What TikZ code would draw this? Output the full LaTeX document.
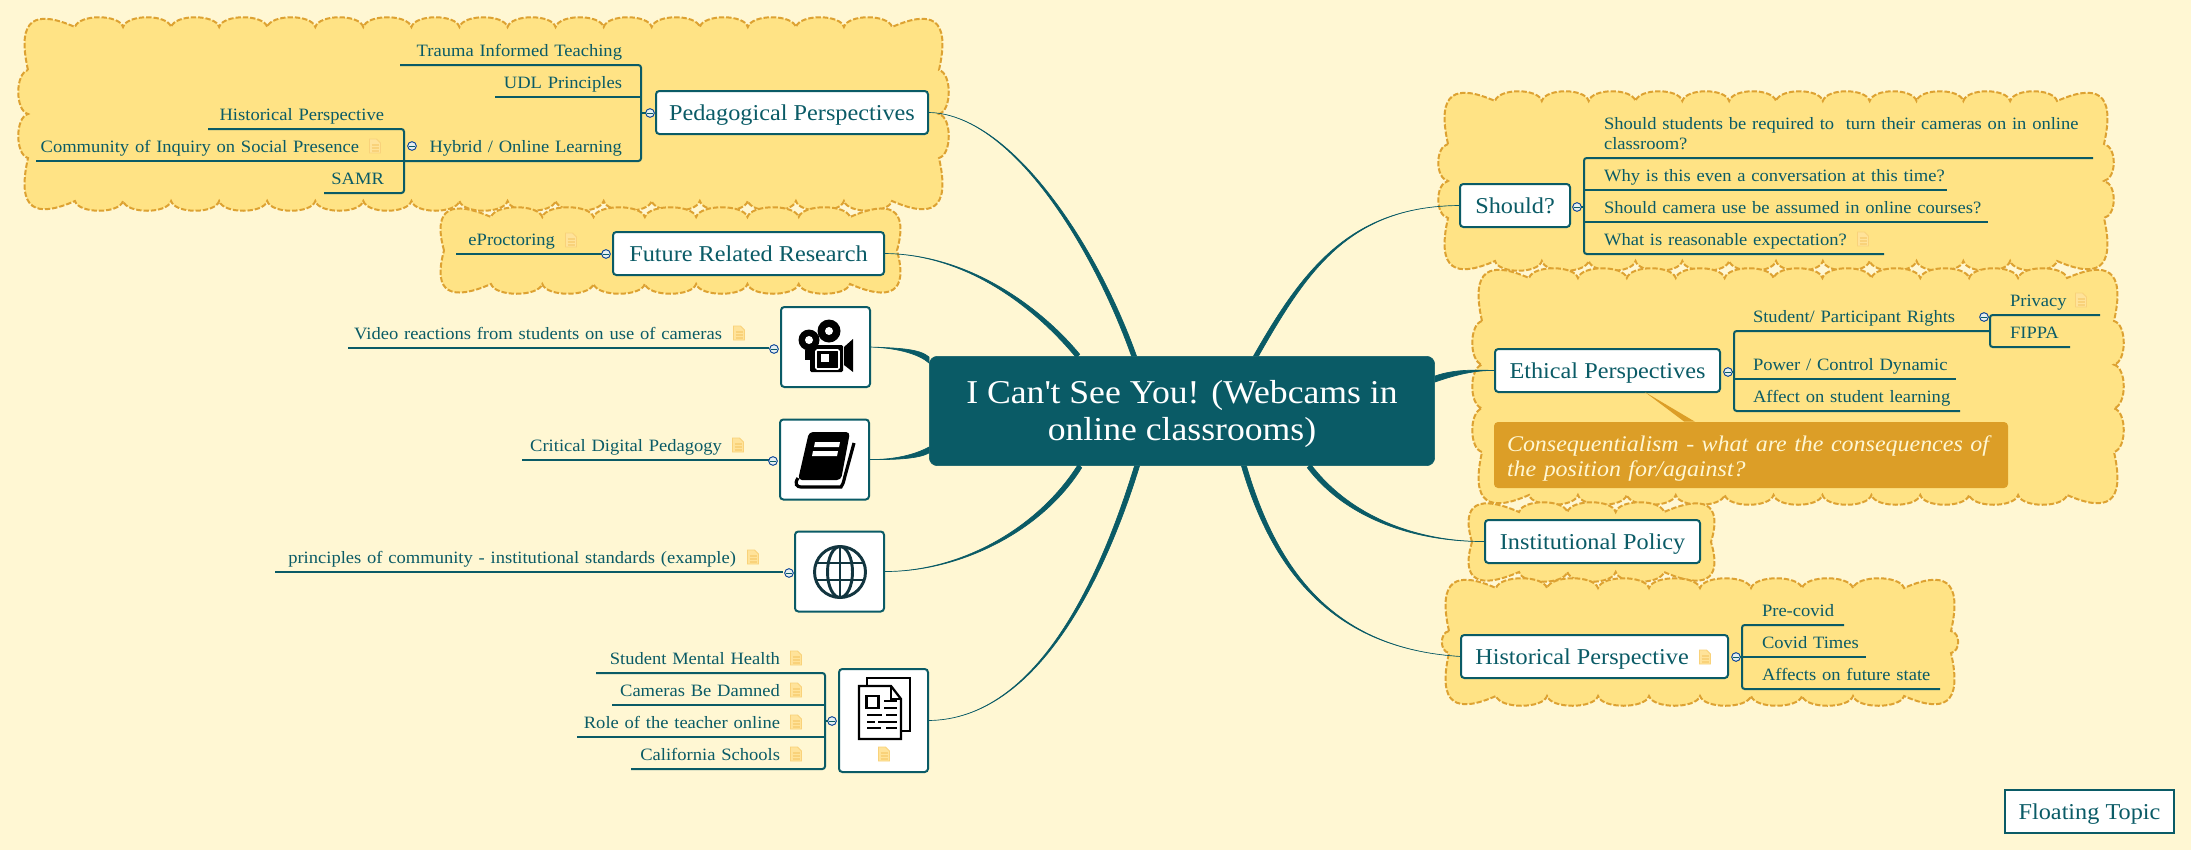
\documentclass[tikz,border=0pt]{standalone}
\usepackage{fontspec}
\setmainfont[FakeStretch=1.07]{Liberation Serif}
\usetikzlibrary{arrows.meta}
\definecolor{paper}{HTML}{FFF7D3}
\definecolor{teal}{HTML}{0A5B66}
\definecolor{blobfill}{HTML}{FFE385}
\definecolor{blobline}{HTML}{DDA232}
\definecolor{calloutfill}{HTML}{DC9E27}
\definecolor{notefill}{HTML}{FFE39A}
\definecolor{noteline}{HTML}{F9D27A}
\definecolor{globeline}{HTML}{12353F}

\tikzset{
  small/.style={font=\fontsize{13}{15}\selectfont, text=teal},
  leafl/.style 2 args={small, anchor=south east, inner sep=0pt, outer sep=0pt, text width=#1*0.75pt, align=right,
    text height=10pt, text depth=6.75pt, execute at begin node={\rightskip=\dimexpr #2pt*3/4\relax}},
  leafr/.style 2 args={small, anchor=south west, inner sep=0pt, outer sep=0pt, text width=#1*0.75pt, align=left,
    text height=10pt, text depth=6.75pt, execute at begin node={\leftskip=\dimexpr #2pt*3/4\relax}},
  topic/.style={draw=teal, fill=white, line width=1.5pt, rounded corners=2.5pt, inner sep=0pt, outer sep=0pt,
    font=\fontsize{17}{20}\selectfont, text=teal, minimum height=32.25pt, minimum width=#1*0.75pt,
    text height=14pt, text depth=2pt},
  iconbox/.style 2 args={draw=teal, fill=white, line width=1.5pt, rounded corners=2.5pt, inner sep=0pt, outer sep=0pt,
    minimum width=#1*0.75pt, minimum height=#2*0.75pt},
  twig/.style={draw=teal, line width=1.5pt, rounded corners=2pt},
  branch/.style={draw=teal, fill=teal, line width=0.5pt},
  blob/.style={draw=blobline, fill=blobfill, line width=1.5pt, dash pattern=on 4pt off 1.5pt},
  fold/.style={circle, draw=teal!70!blue, fill=white!90!teal, line width=0.7pt, inner sep=0pt, outer sep=0pt, minimum size=6.5pt,
    path picture={\draw[teal, line width=0.6pt] ([xshift=1.2pt]path picture bounding box.west) -- ([xshift=-1.2pt]path picture bounding box.east);}},
  notepic/.pic={
    \fill[notefill, draw=noteline, line width=0.6pt] (-5.5,-7) -- (1.5,-7) -- (5.5,-3) -- (5.5,7) -- (-5.5,7) -- cycle;
    \foreach \ly in {-1,2,5}
      \draw[noteline, line width=0.8pt] (-3.5,\ly) -- (3.5,\ly);
  },
  camerapic/.pic={
    \fill[black] (4,-16) circle (11.5);
    \fill[white] (4,-16) circle (4);
    \fill[black] (-16,-7) circle (10.5);
    \fill[white] (-16,-7) circle (4);
    \fill[black, rounded corners=1pt] (-15,-2) rectangle (18,25);
    \fill[black] (-20,3) rectangle (-14,13);
    \fill[black] (19,0) -- (28,-8) -- (28,25) -- (19,18) -- cycle;
    \draw[white, line width=1.2pt, rounded corners=1pt] (-9,3) rectangle (14,22);
    \fill[white] (-4,7) rectangle (4,15);
  },
  bookpic/.pic={
    \fill[black, rounded corners=3pt] (-16,-28) -- (25,-28) -- (16,20) -- (-27,20) -- cycle;
    \draw[black, line width=2.4pt] (-27,18) .. controls (-31,24) and (-28,27) .. (-24,27) -- (16,27) .. controls (18,24) .. (20,16) -- (29,-17);
    \fill[white] (-10,-18) -- (15,-18) -- (14,-13) -- (-11,-13) -- cycle;
    \fill[white] (-12,-9) -- (13,-9) -- (12,-4) -- (-13,-4) -- cycle;
  },
  globepic/.pic={
    \draw[globeline, line width=2.2pt] (0,0) circle (25.5);
    \draw[globeline, line width=2.2pt] (0,0) ellipse (12.5 and 25.5);
    \draw[globeline, line width=2.2pt] (0,-25.5) -- (0,25.5);
    \draw[globeline, line width=2.2pt] (-24,-9) -- (24,-9);
    \draw[globeline, line width=2.2pt] (-24,8) -- (24,8);
  },
  docpic/.pic={
    \draw[black, line width=1.7pt, fill=white] (-17,-31) rectangle (26,22);
    \draw[black, line width=1.7pt, fill=white] (-25,-23) -- (7,-23) -- (17,-10) -- (17,30) -- (-25,30) -- cycle;
    \draw[black, line width=1.2pt] (7,-23) -- (7,-10) -- (17,-10);
    \draw[black, line width=1.7pt] (-17.5,-13) rectangle (-5.5,-1);
    \foreach \ly in {-8,-1}
      \draw[black, line width=1.5pt] (0,\ly) -- (13,\ly);
    \draw[black, line width=1.5pt] (-17,6) -- (-2,6) (2,6) -- (13,6);
    \draw[black, line width=1.5pt] (-17,12.5) -- (-9,12.5) (-6,12.5) -- (13,12.5);
    \draw[black, line width=1.5pt] (-17,19) -- (-3,19) (2,19) -- (13,19);
  }
}

% left, top, right, bottom, bumps across, bumps down
\newcommand{\cloudbox}[6]{
  \pgfmathsetmacro\cy{min(43,(#4-#2)/2)}
  \pgfmathsetmacro\bw{(#3-#1-94)/#5}
  \pgfmathsetmacro\bh{(#4-#2-2*\cy)/#6}
  \pgfmathsetmacro\sd{13*min(1,\bh/30)}
  \draw[blob] (#1,#2+\cy) .. controls (#1-12,#2-10) and (#1+8,#2-17) .. (#1+47,#2)
    \foreach \n in {1,...,#5}{ .. controls +(0.08*\bw,-13) and +(-0.08*\bw,-13) .. ++(\bw,0)}
    .. controls (#3-8,#2-17) and (#3+12,#2-10) .. (#3,#2+\cy)
    \foreach \n in {1,...,#6}{ .. controls +(\sd,0.08*\bh) and +(\sd,-0.08*\bh) .. ++(0,\bh)}
    .. controls (#3+12,#4+10) and (#3-8,#4+17) .. (#3-47,#4)
    \foreach \n in {1,...,#5}{ .. controls +(-0.08*\bw,13) and +(0.08*\bw,13) .. ++(-\bw,0)}
    .. controls (#1+8,#4+17) and (#1-12,#4+10) .. (#1,#4-\cy)
    \foreach \n in {1,...,#6}{ .. controls +(-\sd,-0.08*\bh) and +(-\sd,0.08*\bh) .. ++(0,-\bh)}
    -- cycle;
}

% half width x, half width y, root end, two controls, far end
\newcommand{\branchto}[6]{
  \draw[branch] ([shift={(#1,#2)}]#3) .. controls ([shift={(#1,#2)}]#4) and (#5) .. (#6)
    .. controls (#5) and ([shift={(-#1,-#2)}]#4) .. ([shift={(-#1,-#2)}]#3) -- cycle;
}

\begin{document}
\begin{tikzpicture}[x=0.75pt, y=-0.75pt]
\fill[paper] (0,0) rectangle (2191,850);
\useasboundingbox (0,0) rectangle (2191,850);

\cloudbox{28}{27}{939}{201}{17}{2}
\cloudbox{444}{217}{897}{284}{7}{1}
\cloudbox{1448}{101}{2104}{261}{12}{2}
\cloudbox{1482}{278}{2114}{495}{11}{3}
\cloudbox{1472}{512}{1711}{572}{3}{1}
\cloudbox{1449}{588}{1951}{696}{8}{1}

\node [draw=teal, fill=teal, rounded corners=6pt, minimum width=379pt, minimum height=82pt, inner sep=0pt, text=white,
  align=center, font=\fontsize{25}{27.75}\selectfont] (root) at (1182,411) {\rule{0pt}{22pt}I Can\textquotesingle t See You! (Webcams in\\online classrooms)};

\coordinate (rped) at (1134,356);
\coordinate (rfuture) at (1078,356);
\coordinate (rvideo) at (929,360);
\coordinate (rbook) at (929,450);
\coordinate (rglobe) at (1080,466);
\coordinate (rdoc) at (1137,466);
\coordinate (rshould) at (1256,356);
\coordinate (rethical) at (1435,379);
\coordinate (rinst) at (1309,466);
\coordinate (rhist) at (1244,466);

\node [topic=272] (ped) at (792,112.5) {Pedagogical Perspectives};
\node [topic=271] (future) at (748.5,253.5) {Future Related Research};
\node [iconbox={89}{80}] (video) at (825.5,347) {};
\node [iconbox={89}{80}] (book) at (824.5,459.5) {};
\node [iconbox={89}{80}] (globe) at (839.5,571.5) {};
\node [iconbox={89}{103}] (doc) at (883.5,720.5) {};
\node [topic=110] (should) at (1515,205.5) {Should?};
\node [topic=225] (ethical) at (1607.5,370.5) {Ethical Perspectives};
\node [topic=215] (inst) at (1592.5,541.5) {Institutional Policy};
\node [topic=267] (histp) at (1594.5,656.5) {Historical Perspective\kern18.75pt};
\node [topic=169, rounded corners=0pt] (floating) at (2089.5,811) {Floating Topic};

\pic at (825,347) {camerapic};
\pic at (825,460) {bookpic};
\pic at (840,572) {globepic};
\pic at (884,709) {docpic};

\node [fill=calloutfill, rounded corners=3pt, minimum width=385.5pt, minimum height=49.5pt, inner sep=0pt, text=paper,
  text width=366pt, align=left, font=\fontsize{16.8}{18.75}\itshape\selectfont] (callout) at (1751,455)
  {\rule{0pt}{16.5pt}Consequentialism - what are the consequences of\\the position for/against?};
\fill[calloutfill] ([xshift=28pt]ethical.south) -- ([xshift=-42pt]callout.north) -- ([xshift=-50pt]callout.north) -- cycle;

\branchto{2.5}{0}{rped}{1094,244}{1010,113}{ped.east}
\branchto{1.7}{-1.7}{rfuture}{1040,310}{970,254}{future.east}
\branchto{0}{3}{rvideo}{920,352}{900,348}{video.east}
\branchto{0}{3}{rbook}{920,455}{900,460}{book.east}
\branchto{1.7}{1.7}{rglobe}{1040,530}{960,572}{globe.east}
\branchto{2.5}{0}{rdoc}{1105,570}{1040,720}{doc.east}
\branchto{2.5}{0}{rshould}{1305,270}{1350,206}{should.west}
\branchto{0}{3}{rethical}{1455,372}{1475,370}{ethical.west}
\branchto{1.7}{-1.7}{rinst}{1350,520}{1420,542}{inst.west}
\branchto{2.5}{0}{rhist}{1280,590}{1350,650}{histp.west}

\node [leafl={241}{19}] (trauma) at (641,65) {Trauma Informed Teaching};
\node [leafl={146}{19}] (udl) at (641,97) {UDL Principles};
\node [leafl={237}{19}] (hybrid) at (641,161) {Hybrid / Online Learning};
\node [leafl={196}{20}] (histview) at (404,129) {Historical Perspective};
\node [leafl={368}{45}] (inquiry) at (404,161) {Community of Inquiry on Social Presence};
\node [leafl={80}{20}] (samr) at (404,193) {SAMR};
\node [leafl={148}{49}] (eproc) at (604,254) {eProctoring};
\node [leafl={421}{47}] (reactions) at (769,348) {Video reactions from students on use of cameras};
\node [leafl={247}{47}] (critical) at (769,460) {Critical Digital Pedagogy};
\node [leafl={508}{47}] (principles) at (783,572) {principles of community - institutional standards (example)};
\node [leafl={229}{45}] (mental) at (825,673) {Student Mental Health};
\node [leafl={213}{45}] (damned) at (825,705) {Cameras Be Damned};
\node [leafl={248}{45}] (teacher) at (825,737) {Role of the teacher online};
\node [leafl={194}{45}] (california) at (825,769) {California Schools};

\node [leafr={509}{20}, text depth=21.75pt] (required) at (1584,158) {Should students be required to\ \ turn their cameras on in online\\classroom?};
\node [leafr={363}{20}] (why) at (1584,190) {Why is this even a conversation at this time?};
\node [leafr={404}{20}] (assumed) at (1584,222) {Should camera use be assumed in online courses?};
\node [leafr={300}{20}] (reasonable) at (1584,254) {What is reasonable expectation?};
\node [leafr={255}{19}] (rights) at (1734,331) {Student/ Participant Rights};
\node [leafr={222}{19}] (power) at (1734,379) {Power / Control Dynamic};
\node [leafr={226}{19}] (affect) at (1734,411) {Affect on student learning};
\node [leafr={110}{20}] (privacy) at (1990,315) {Privacy};
\node [leafr={80}{20}] (fippa) at (1990,347) {FIPPA};
\node [leafr={102}{20}] (precovid) at (1742,625) {Pre-covid};
\node [leafr={124}{20}] (covid) at (1742,657) {Covid Times};
\node [leafr={198}{20}] (affects) at (1742,689) {Affects on future state};

\pic at (375,146) {notepic};
\pic at (571,240) {notepic};
\pic at (739,333) {notepic};
\pic at (738,445) {notepic};
\pic at (753,557) {notepic};
\pic at (796,658) {notepic};
\pic at (796,690) {notepic};
\pic at (796,722) {notepic};
\pic at (796,754) {notepic};
\pic at (884,754) {notepic};
\pic at (1863,239) {notepic};
\pic at (2081,300) {notepic};
\pic at (1705,657) {notepic};

\draw [twig] (trauma.south west) -- (trauma.south east) -- (hybrid.south east) -- (hybrid.south west);
\draw [twig] (udl.south west) -- (udl.south east);
\draw [twig] (histview.south west) -- (histview.south east) -- (samr.south east) -- (samr.south west);
\draw [twig] (inquiry.south west) -- (inquiry.south east);
\draw [twig] (eproc.south west) -- (eproc.south east);
\draw [twig] (reactions.south west) -- (reactions.south east);
\draw [twig] (critical.south west) -- (critical.south east);
\draw [twig] (principles.south west) -- (principles.south east);
\draw [twig] (mental.south west) -- (mental.south east) -- (california.south east) -- (california.south west);
\draw [twig] (damned.south west) -- (damned.south east);
\draw [twig] (teacher.south west) -- (teacher.south east);
\draw [twig] (required.south east) -- (required.south west) -- (reasonable.south west) -- (reasonable.south east);
\draw [twig] (why.south west) -- (why.south east);
\draw [twig] (assumed.south west) -- (assumed.south east);
\draw [twig] (rights.south east) -- (rights.south west) -- (affect.south west) -- (affect.south east);
\draw [twig] (power.south west) -- (power.south east);
\draw [twig] (privacy.south east) -- (privacy.south west) -- (fippa.south west) -- (fippa.south east);
\draw [twig] (precovid.south east) -- (precovid.south west) -- (affects.south west) -- (affects.south east);
\draw [twig] (covid.south west) -- (covid.south east);

\node [fold] (fped) at (650,113) {};
\node [fold] (fhybrid) at (412,146) {};
\node [fold] (ffuture) at (606,254) {};
\node [fold] (fvideo) at (774,349) {};
\node [fold] (fbook) at (773,461) {};
\node [fold] (fglobe) at (789,573) {};
\node [fold] (fdoc) at (832,721) {};
\node [fold] (fshould) at (1577,207) {};
\node [fold] (fethical) at (1728,372) {};
\node [fold] (frights) at (1984,317) {};
\node [fold] (fhist) at (1736,657) {};

\draw [twig] (fped.west) -- (fped.west -| trauma.south east);
\draw [twig] (fdoc.west) -- (fdoc.west -| mental.south east);
\draw [twig] (fshould.east) -- (fshould.east -| required.south west);
\draw [twig] (fethical.east) -- (fethical.east -| rights.south west);
\draw [twig] (fhist.east) -- (fhist.east -| precovid.south west);
\end{tikzpicture}
\end{document}
